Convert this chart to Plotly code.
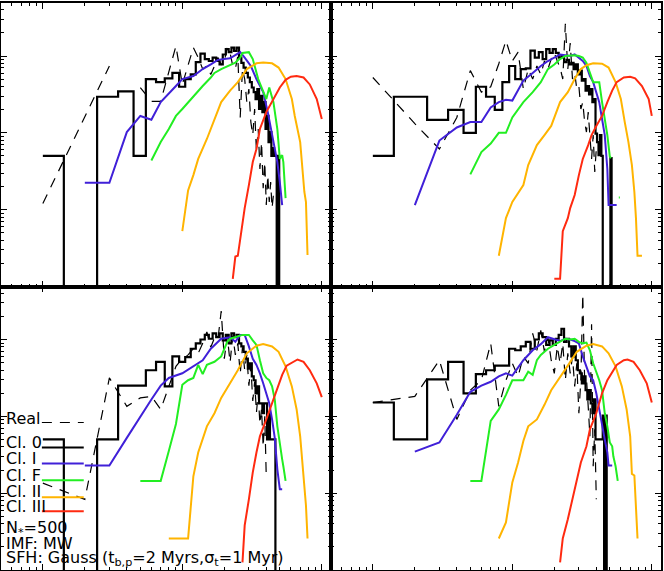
import plotly.graph_objects as go
from plotly.subplots import make_subplots

# all values are log10 of the plotted quantity; None in a histogram = empty bin,
# None in a line = no point drawn
FLOOR = 1e-6

bins = list(range(1, 53))

# ---------------- top left ----------------
tl_cl0 = [-1.30, None, -0.53, -0.46, -1.30, -0.30, -0.34, -0.29, -0.22, -0.40,
          -0.30, -0.24, -0.08, 0.03, -0.04, -0.065, -0.02, -0.065, -0.11, 0.02,
          0.09, 0.05, 0.11, 0.065, 0.11, -0.02, -0.09, -0.15, -0.22, -0.28,
          -0.34, -0.41, -0.47, -0.56, -0.43, -0.69, -0.52, -0.73, -0.60, -0.95,
          -0.78, -1.12, -0.99, -1.30, -1.20, -1.30, -1.30, None, -1.30, None]
tl_real = [-1.92, -0.79, -0.13, None, -0.41, -0.59, -0.59, -0.22, 0.13, -0.37,
           -0.13, 0.11, -0.02, -0.17, -0.13, -0.24, -0.13, -0.02, -0.11, -0.065,
           0.11, 0.04, -0.13, -0.17, 0.0, -0.80, -0.17, -0.30, -0.60, -0.43,
           -0.86, -1.03, -0.69, -1.25, -0.95, -1.47, -1.12, -1.72, -1.38, -1.94,
           -1.55, -1.90, -1.64, -1.98, -1.81]
tl_cl1_x = [2, 3, 4, 5, 6, 7, 9, 10, 12, 14, 16, 18, 22, 24, 26, 28, 31, 34, 38, 41, 44, 48, 50, 52]
tl_cl1 = [-1.65, -1.65, -0.99, -0.78, -0.83, -0.60, -0.39, -0.30, -0.26, -0.17, -0.11, -0.05,
          -0.03, 0.01, 0.05, -0.02, -0.13, -0.30, -0.47, -0.73, -1.03, -1.38, -1.64, -1.94]
tl_clf_x = [6, 7, 8, 9, 10, 12, 14, 16, 17, 19, 21, 24, 26, 27, 30, 32, 35, 38, 40, 42, 45, 48, 50, 52, 53, 55]
tl_clf = [-1.36, -1.12, -0.95, -0.78, -0.69, -0.52, -0.39, -0.28, -0.22, -0.17, -0.13, -0.086, -0.02,
          0.04, 0.05, -0.04, -0.30, -0.47, -0.56, -0.41, -0.60, -0.95, -1.34, -1.29, -1.38, -1.85]
tl_cl2_x = [10, 11, 12, 13, 15, 17, 19, 22, 25, 29, 34, 38, 44, 49, 55, 61, 64, 70, 75, 77, 79]
tl_cl2 = [-2.28, -1.75, -1.55, -1.34, -1.08, -0.82, -0.60, -0.45, -0.34, -0.17, -0.095, -0.086,
          -0.095, -0.15, -0.30, -0.56, -0.78, -1.12, -1.77, -1.90, -2.59]
tl_cl3_x = [23, 24, 25, 28, 30, 32, 34, 36, 40, 45, 50, 55, 60, 66, 74, 82, 92, 100]
tl_cl3 = [-2.90, -2.61, -2.60, -1.98, -1.68, -1.38, -1.21, -0.95, -0.73, -0.56, -0.41, -0.31,
          -0.27, -0.26, -0.28, -0.37, -0.56, -0.82]

# ---------------- top right ----------------
tr_cl0 = [-1.30, -0.53, -0.83, -0.70, -1.00, -0.40, -0.53, -0.70, -0.34, -0.13,
          -0.30, -0.17, -0.16, 0.07, -0.02, 0.05, -0.04, 0.09, 0.04, 0.09,
          0.04, -0.02, 0.0, -0.08, -0.05, -0.11, -0.09, -0.17, -0.11, -0.24,
          -0.19, -0.32, -0.30, -0.45, -0.39, -0.50, -0.43, -0.60, -0.56, -1.01,
          -1.12, -1.29, -1.03, -1.30, None, None, None, None, None, None, -1.33, None]
tr_real = [-0.28, -0.88, -1.21, -0.80, -0.19, -0.47, -0.40, -0.10, 0.20, -0.065,
           0.05, -0.43, -0.17, -0.30, -0.13, -0.24, -0.065, -0.17, -0.04, 0.04,
           -0.065, -0.15, -0.30, 0.42, -0.17, 0.17, -0.30, -0.22, -0.43, -0.39,
           -0.69, -0.60, -0.86, -0.99, -0.73, -1.12, -1.34, -1.03, -1.51, -1.21]
tr_cl1_x = [2, 3, 4, 5, 6, 7, 8, 9, 10, 12, 14, 16, 18, 20, 22, 24, 26, 28, 30, 32, 34, 36,
            38, 40, 42, 44, 46, 48, 49, 52, 56]
tr_cl1 = [-1.94, -1.10, -0.93, -0.86, -0.86, -0.67, -0.60, -0.57, -0.58, -0.32, -0.22, -0.13,
          -0.065, -0.02, 0.02, 0.01, 0.0, 0.02, -0.02, -0.065, -0.13, -0.26, -0.34, -0.47,
          -0.60, -0.82, -1.03, -1.47, -1.94, -1.94, -1.94]
tr_clf_x = [5, 6, 7, 8, 9, 10, 12, 14, 16, 18, 20, 22, 24, 26, 28, 30, 32, 34, 36, 38, 40, 42,
            44, 46, 48, 50, 51, 52, 58, 59]
tr_clf = [-1.54, -1.25, -1.14, -1.0, -1.0, -0.80, -0.60, -0.47, -0.34, -0.17, -0.11, -0.04, 0.0,
          0.01, 0.01, 0.0, -0.02, -0.09, -0.22, -0.34, -0.34, -0.34, -0.60, -0.82, -1.03, -1.31,
          -1.33, None, -1.84, -1.84]
tr_cl2_x = [8, 9, 10, 11, 12, 13, 15, 17, 19, 22, 25, 28, 31, 34, 38, 44, 49, 55, 60, 64, 68,
            72, 75, 77, 79, 85]
tr_cl2 = [-2.60, -2.11, -1.90, -1.79, -1.68, -1.42, -1.16, -1.03, -0.91, -0.60, -0.47, -0.30,
          -0.17, -0.12, -0.095, -0.10, -0.15, -0.34, -0.56, -0.86, -1.12, -1.42, -1.77, -2.11,
          -2.60, -2.60]
tr_cl3_x = [20, 22, 23, 25, 26, 28, 30, 32, 35, 37, 40, 44, 48, 52, 56, 63, 70, 76, 85, 95, 100]
tr_cl3 = [-2.90, -2.90, -2.28, -2.11, -1.98, -1.81, -1.55, -1.34, -1.16, -1.03, -0.91, -0.78,
          -0.60, -0.45, -0.34, -0.28, -0.27, -0.29, -0.39, -0.56, -0.78]

# ---------------- bottom left ----------------
bl_cl0 = [-1.30, None, -1.30, -0.60, -0.60, -0.40, -0.29, -0.61, -0.22, -0.29,
          -0.23, -0.12, -0.05, 0.0, 0.06, 0.01, 0.08, 0.03, 0.08, -0.01,
          0.06, -0.05, 0.08, 0.03, 0.06, -0.05, -0.09, -0.16, -0.25, -0.38,
          -0.31, -0.48, -0.53, -0.70, -0.61, -0.83, -0.83, -0.96, -0.83, -0.83,
          -1.30, -0.96, -1.30, -1.30, -1.30, -1.30, None]
bl_real = [-1.87, -2.08, -0.50, -0.87, -0.76, -0.74, -0.91, -0.61, -0.35, -0.25,
           -0.20, -0.12, -0.18, -0.05, 0.10, -0.10, 0.02, 0.0, 0.37, -0.25,
           0.05, -0.30, 0.05, -0.20, -0.05, -0.45, -0.10, -0.40, -0.20, -0.60,
           -0.35, -0.80, -0.55, -0.95, -0.70, -1.10, -0.90, -1.40, -1.00, -1.80]
bl_cl1_x = [2, 3, 4, 5, 6, 7, 8, 10, 12, 14, 16, 19, 22, 24, 26, 28, 30, 32, 34, 36, 38, 40,
            42, 44, 46, 48, 50, 52]
bl_cl1 = [-1.64, -1.64, -1.28, -1.00, -0.78, -0.60, -0.50, -0.44, -0.35, -0.27, -0.12, 0.01,
          0.03, -0.03, 0.06, 0.06, -0.09, -0.25, -0.33, -0.44, -0.57, -0.72, -0.83, -1.04,
          -1.28, -1.69, -1.95, -1.95]
bl_clf_x = [5, 7, 8, 9, 10, 11, 12, 13, 14, 15, 17, 19, 21, 22, 27, 30, 32, 34, 36, 38, 40,
            42, 44, 46, 48, 50, 52, 53, 55]
bl_clf = [-1.84, -1.84, -1.45, -1.10, -0.59, -0.53, -0.50, -0.33, -0.45, -0.33, -0.29, -0.22,
          -0.03, 0.01, 0.06, 0.06, -0.01, -0.07, -0.27, -0.44, -0.50, -0.53, -0.61, -0.78,
          -1.13, -1.39, -1.56, -1.65, -1.84]
bl_cl2_x = [8, 11, 12, 13, 15, 17, 19, 22, 25, 29, 34, 38, 44, 49, 55, 61, 66, 70, 74, 77, 79]
bl_cl2 = [-2.59, -2.59, -1.78, -1.47, -1.13, -0.96, -0.76, -0.57, -0.40, -0.18, -0.08, -0.06,
          -0.09, -0.16, -0.35, -0.61, -0.91, -1.26, -1.73, -2.16, -2.59]
bl_cl3_x = [27, 28, 30, 32, 34, 36, 40, 44, 48, 52, 56, 63, 67, 74, 82, 92, 100]
bl_cl3 = [-2.90, -2.42, -2.08, -1.73, -1.47, -1.26, -1.04, -0.83, -0.61, -0.46, -0.34, -0.28,
          -0.26, -0.29, -0.40, -0.57, -0.75]

# ---------------- bottom right ----------------
br_cl0 = [-0.82, -1.30, -0.52, -0.29, -0.70, -0.45, -0.40, -0.34, -0.34, -0.12,
          -0.14, -0.09, -0.03, -0.12, 0.0, 0.08, 0.03, -0.07, -0.01, -0.07,
          0.01, 0.06, 0.14, -0.03, 0.01, -0.09, -0.22, -0.09, -0.27, -0.40,
          -0.44, -0.57, -0.48, -0.66, -0.78, -0.66, -0.83, -0.96, -0.78, -1.30,
          -1.30, -1.30, -1.30, -1.30, -0.99, None, -0.99, None]
br_real = [-0.82, -0.74, -0.27, -1.04, -0.66, -0.53, -0.05, -0.87, -0.53, -0.31,
           -0.48, -0.22, -0.31, 0.08, -0.14, 0.12, -0.16, 0.03, -0.27, -0.44,
           -0.09, -0.31, -0.05, -0.53, -0.18, -0.44, -0.22, -0.61, -0.31, -0.96,
           -0.53, 0.59, -0.53, -0.50, -0.87, -1.26, 0.20, -1.65, -1.17, -2.08]
br_cl1_x = [2, 3, 4, 5, 6, 7, 8, 9, 10, 12, 14, 16, 18, 20, 22, 24, 26, 28, 30, 32, 34, 36,
            38, 40, 42, 44, 46, 48, 49, 52]
br_cl1 = [-1.46, -1.34, -0.98, -0.68, -0.60, -0.55, -0.48, -0.44, -0.47, -0.27, -0.14, -0.06,
          0.03, 0.0, -0.02, 0.01, 0.0, -0.02, -0.05, -0.22, -0.35, -0.48, -0.53, -0.70, -0.91,
          -1.13, -1.30, -1.47, -1.64, -1.64]
br_clf_x = [5, 6, 7, 8, 9, 10, 12, 13, 14, 15, 16, 18, 20, 22, 24, 26, 28, 30, 32, 34, 36, 38,
            40, 42, 44, 46, 48, 50, 52, 53, 55, 57]
br_clf = [-1.84, -1.84, -1.06, -0.91, -0.72, -0.53, -0.53, -0.42, -0.46, -0.27, -0.20, -0.12,
          -0.07, -0.03, 0.01, 0.0, 0.01, -0.03, -0.05, -0.04, -0.14, -0.31, -0.42, -0.53, -0.66,
          -0.96, -1.13, -1.34, -1.39, -1.52, -1.65, -1.84]
br_cl2_x = [8, 9, 10, 11, 12, 13, 15, 17, 19, 22, 25, 29, 34, 38, 44, 49, 55, 61, 66, 70, 72,
            75, 77, 79]
br_cl2 = [-2.59, -2.38, -1.86, -1.60, -1.32, -1.13, -1.04, -0.85, -0.66, -0.48, -0.34, -0.16,
          -0.08, -0.06, -0.09, -0.18, -0.35, -0.61, -0.91, -1.26, -1.75, -1.77, -2.16, -2.59]
br_cl3_x = [22, 23, 25, 27, 29, 31, 34, 36, 40, 44, 48, 52, 56, 63, 67, 74, 82, 92, 100]
br_cl3 = [-2.90, -2.59, -2.34, -2.08, -1.82, -1.60, -1.39, -1.17, -0.96, -0.70, -0.53, -0.42,
          -0.33, -0.27, -0.26, -0.29, -0.40, -0.57, -0.82]

labels = ["Real", "Cl. 0", "Cl. I", "Cl. F", "Cl. II", "Cl. III"]
colors = ["black", "black", "#4020d8", "#22ee22", "#ffb400", "#ff2a10"]
info = ["N<sub>*</sub>=500", "IMF: MW",
        "SFH: Gauss (t<sub>b,p</sub>=2 Myrs,σ<sub>t</sub>=1 Myr)"]


def unlog(v, empty=None):
    return [empty if a is None else 10 ** a for a in v]


panels = [
    (1, 1, tl_real, tl_cl0, [(tl_cl1_x, tl_cl1), (tl_clf_x, tl_clf), (tl_cl2_x, tl_cl2), (tl_cl3_x, tl_cl3)]),
    (1, 2, tr_real, tr_cl0, [(tr_cl1_x, tr_cl1), (tr_clf_x, tr_clf), (tr_cl2_x, tr_cl2), (tr_cl3_x, tr_cl3)]),
    (2, 1, bl_real, bl_cl0, [(bl_cl1_x, bl_cl1), (bl_clf_x, bl_clf), (bl_cl2_x, bl_cl2), (bl_cl3_x, bl_cl3)]),
    (2, 2, br_real, br_cl0, [(br_cl1_x, br_cl1), (br_clf_x, br_clf), (br_cl2_x, br_cl2), (br_cl3_x, br_cl3)]),
]

fig = make_subplots(rows=2, cols=2, horizontal_spacing=0, vertical_spacing=0)

for r, c, real, cl0, curves in panels:
    fig.add_trace(go.Scatter(x=bins[:len(cl0)], y=unlog(cl0, FLOOR), mode="lines",
                             line=dict(color="black", width=2.2, shape="hvh")), row=r, col=c)
    fig.add_trace(go.Scatter(x=bins[:len(real)], y=unlog(real), mode="lines",
                             line=dict(color="black", width=1.2, dash="10px,8px")), row=r, col=c)
    for (cx, cy), col in zip(curves, colors[2:]):
        fig.add_trace(go.Scatter(x=cx, y=unlog(cy), mode="lines",
                                 line=dict(color=col, width=2)), row=r, col=c)

xmaj = [1, 10, 100]
xmin = [0.5, 0.6, 0.7, 0.8, 0.9] + list(range(2, 10)) + [10 * k for k in range(2, 10)]
ymaj = [0.001, 0.01, 0.1, 1]
ymin = [m * 10.0 ** e for e in range(-3, 1) for m in range(2, 10)]

axis_style = dict(type="log", showgrid=False, zeroline=False, showline=True,
                  linecolor="black", linewidth=1.5, mirror="allticks",
                  ticks="inside", ticklen=6, tickwidth=1.2, tickcolor="black",
                  showticklabels=False)
fig.update_xaxes(**axis_style, range=[-0.30, 2.066], tickvals=xmaj,
                 minor=dict(tickvals=xmin, ticks="inside", ticklen=3,
                            tickwidth=1, tickcolor="black", showgrid=False))
fig.update_yaxes(**axis_style, range=[-3.0, 0.69], tickvals=ymaj,
                 minor=dict(tickvals=ymin, ticks="inside", ticklen=3,
                            tickwidth=1, tickcolor="black", showgrid=False))

W, H = 664, 571


def px(x):
    return (x - 1) / (W - 2)


def py(y):
    return 1 - (y - 1) / (H - 2)


font = dict(family="DejaVu Sans", size=16, color="black")
label_y = [418, 442, 458, 475, 491, 506]
sample_y = [422, 447, 463, 480, 497, 511]
for lab, ly, sy, col in zip(labels, label_y, sample_y, colors):
    fig.add_annotation(text=lab, x=px(4), y=py(ly), xref="paper", yref="paper",
                       xanchor="left", yanchor="middle", showarrow=False, font=font)
    fig.add_shape(type="line", xref="paper", yref="paper",
                  x0=px(42), x1=px(84), y0=py(sy), y1=py(sy),
                  line=dict(color=col, width=1.2 if lab == "Real" else 2,
                            dash="10px,8px" if lab == "Real" else "solid"))

for txt, ty in zip(info, [528, 543, 558]):
    fig.add_annotation(text=txt, x=px(4), y=py(ty), xref="paper", yref="paper",
                       xanchor="left", yanchor="middle", showarrow=False, font=font)

fig.update_layout(width=W, height=H, margin=dict(l=1, r=1, t=1, b=1),
                  showlegend=False, plot_bgcolor="white", paper_bgcolor="white")

fig.write_html("out.html", config={"displayModeBar": False},
               post_script="document.body.style.margin='0';document.body.style.overflow='hidden';")
